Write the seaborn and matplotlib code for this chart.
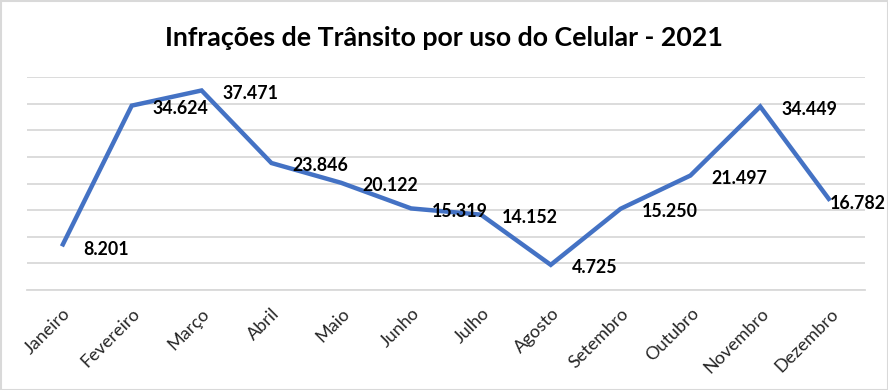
import matplotlib
matplotlib.use("Agg")
import matplotlib.pyplot as plt
import seaborn as sns
import pandas as pd
from matplotlib.patches import Rectangle

meses = ["Janeiro", "Fevereiro", "Março", "Abril", "Maio", "Junho", "Julho",
         "Agosto", "Setembro", "Outubro", "Novembro", "Dezembro"]
infracoes = [8201, 34624, 37471, 23846, 20122, 15319, 14152,
             4725, 15250, 21497, 34449, 16782]
rotulos = ["8.201", "34.624", "37.471", "23.846", "20.122", "15.319", "14.152",
           "4.725", "15.250", "21.497", "34.449", "16.782"]
titulo = "Infrações de Trânsito por uso do Celular - 2021"

sns.set_theme(style="white")
plt.rcParams["font.family"] = ["Lato", "DejaVu Sans"]

df = pd.DataFrame({"mes": meses, "valor": infracoes})
df["pos"] = range(len(meses))

fig = plt.figure(figsize=(8.88, 3.9), dpi=100)
ax = fig.add_axes([27/888, 1-290/390, (865-27)/888, (290-77)/390])

sns.lineplot(data=df, x="pos", y="valor", ax=ax, color="#4472C4",
             linewidth=3.2, solid_joinstyle="miter", solid_capstyle="butt")

ax.set_xlim(-0.5, len(meses)-0.5)
ax.set_ylim(0, 40000)
ax.set_yticks(range(0, 40001, 5000))
ax.set_yticklabels([])
ax.yaxis.grid(True, color="#D9D9D9", linewidth=1.3)
ax.xaxis.grid(False)
for s in ["top", "right", "left"]:
    ax.spines[s].set_visible(False)
ax.spines["bottom"].set_color("#D9D9D9")
ax.spines["bottom"].set_linewidth(1.3)
ax.tick_params(axis="both", length=0)
ax.set_xticks(df["pos"])
ax.set_xticklabels(meses, rotation=45, ha="right", rotation_mode="anchor",
                   fontsize=13, color="#262626")
ax.tick_params(axis="x", pad=11)
ax.set_xlabel("")
ax.set_ylabel("")

n = len(rotulos)
for i, (x, y, t) in enumerate(zip(df["pos"], df["valor"], rotulos)):
    dx = 15 if i < n - 1 else 0
    ax.annotate(t, (x, y), xytext=(dx, -2), textcoords="offset points",
                ha="left", va="center", fontsize=12.8, fontweight="bold",
                color="#000000", annotation_clip=False)

fig.text(0.5, 1-38/390, titulo, ha="center", va="center", fontsize=19.3,
         fontweight="bold", color="#000000")

fig.patches.append(Rectangle((0.5/888, 0.5/390), 1-1/888, 1-1/390,
                             transform=fig.transFigure, fill=False,
                             edgecolor="#D9D9D9", linewidth=1.5))

fig.savefig("out.png", dpi=100, facecolor="white")
